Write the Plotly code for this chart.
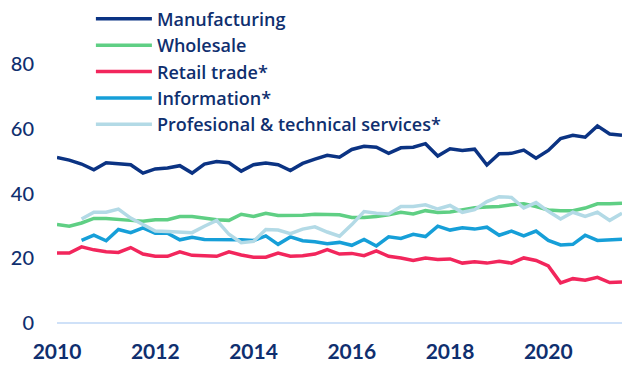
import plotly.graph_objects as go

# Quarterly observations, 2010 Q1 to 2021 Q3
quarters = [2010 + i / 4 for i in range(47)]

manufacturing = [51.1, 50.3, 49.1, 47.3, 49.5, 49.1, 48.9, 46.3, 47.6, 47.9, 48.6, 46.3,
                 49.1, 49.9, 49.5, 46.9, 48.9, 49.4, 48.9, 47.1, 49.3, 50.6, 51.8, 51.2,
                 53.6, 54.6, 54.3, 52.4, 54.1, 54.3, 55.4, 51.6, 53.8, 53.3, 53.7, 48.8,
                 52.3, 52.4, 53.4, 50.9, 53.3, 57.0, 58.0, 57.4, 60.9, 58.4, 58.0]

wholesale = [30.4, 29.9, 30.9, 32.3, 32.3, 31.9, 31.7, 31.4, 31.9, 31.9, 32.9, 32.9,
             32.4, 31.9, 31.7, 33.6, 32.9, 33.9, 33.2, 33.2, 33.3, 33.6, 33.6, 33.4,
             32.6, 32.6, 32.9, 33.4, 34.2, 33.7, 34.7, 34.1, 34.3, 34.9, 35.6, 35.8,
             36.0, 36.5, 36.8, 36.0, 34.9, 34.7, 34.7, 35.5, 36.8, 36.8, 37.0]

retail = [21.6, 21.6, 23.5, 22.6, 22.0, 21.8, 23.3, 21.3, 20.6, 20.6, 22.0, 20.9,
          20.8, 20.6, 22.0, 21.0, 20.3, 20.3, 21.6, 20.6, 20.8, 21.3, 22.7, 21.3,
          21.5, 20.8, 22.3, 20.6, 20.1, 19.3, 20.1, 19.6, 19.8, 18.5, 18.9, 18.5,
          19.1, 18.5, 20.1, 19.3, 17.6, 12.4, 13.7, 13.2, 14.1, 12.5, 12.7]

information = [None, None, 25.5, 27.1, 25.4, 28.9, 27.9, 29.4, 27.7, 27.7, 25.7, 26.5,
               25.8, 25.8, 25.7, 25.7, 25.5, 26.9, 24.3, 26.6, 25.4, 25.1, 24.5, 24.9,
               24.0, 25.8, 23.8, 26.6, 26.1, 27.4, 26.7, 29.9, 28.7, 29.4, 29.0, 29.6,
               27.1, 28.4, 26.9, 28.4, 25.5, 24.1, 24.3, 27.1, 25.5, 25.8, 25.9]

professional = [None, None, 32.1, 34.2, 34.2, 35.2, 32.4, 30.4, 28.4, 28.3, 28.0, 27.9,
                29.9, 31.7, 27.4, 24.8, 25.2, 28.9, 28.7, 27.6, 29.0, 29.7, 28.1, 26.8,
                30.4, 34.4, 33.9, 33.7, 36.0, 36.0, 36.5, 35.2, 36.3, 34.2, 35.0, 37.5,
                39.0, 38.8, 35.5, 37.2, 34.5, 32.1, 34.2, 32.9, 34.2, 31.7, 33.9]

series = [
    ("Manufacturing", manufacturing, "#0b3383"),
    ("Wholesale", wholesale, "#5fcf84"),
    ("Retail trade*", retail, "#f2265c"),
    ("Information*", information, "#169fd8"),
    ("Profesional & technical services*", professional, "#b3dae6"),
]

year_ticks = [2010, 2012, 2014, 2016, 2018, 2020]
value_ticks = [0, 20, 40, 60, 80]

navy = "#0f2f6f"

fig = go.Figure()
for name, values, color in series:
    fig.add_trace(go.Scatter(
        x=quarters, y=values, name=name, mode="lines",
        line=dict(color=color, width=3.5), connectgaps=False,
    ))

fig.update_layout(
    width=622, height=367,
    margin=dict(l=57, r=0, t=59, b=44),
    paper_bgcolor="white", plot_bgcolor="white",
    font=dict(family="Lato", color=navy),
    showlegend=True,
    legend=dict(
        x=0.06, y=1.245, xanchor="left", yanchor="top",
        bgcolor="rgba(0,0,0,0)", itemwidth=56,
        font=dict(family="Open Sans", size=18, color=navy, weight=600),
        tracegroupgap=0, itemclick=False,
    ),
    xaxis=dict(
        range=[2010, 2021.5], tickvals=year_ticks, ticktext=[str(y) for y in year_ticks],
        showgrid=False, zeroline=False, showline=False,
        ticks="", ticklabelstandoff=14,
        tickfont=dict(size=21, color=navy, weight=700),
    ),
    yaxis=dict(
        range=[0, 80], tickvals=value_ticks, showgrid=False,
        zeroline=True, zerolinecolor="#cfe1f8", zerolinewidth=2,
        showline=False, ticks="", ticklabelstandoff=22,
        tickfont=dict(size=20, color=navy, weight=500),
    ),
)

fig.write_html("out.html")
